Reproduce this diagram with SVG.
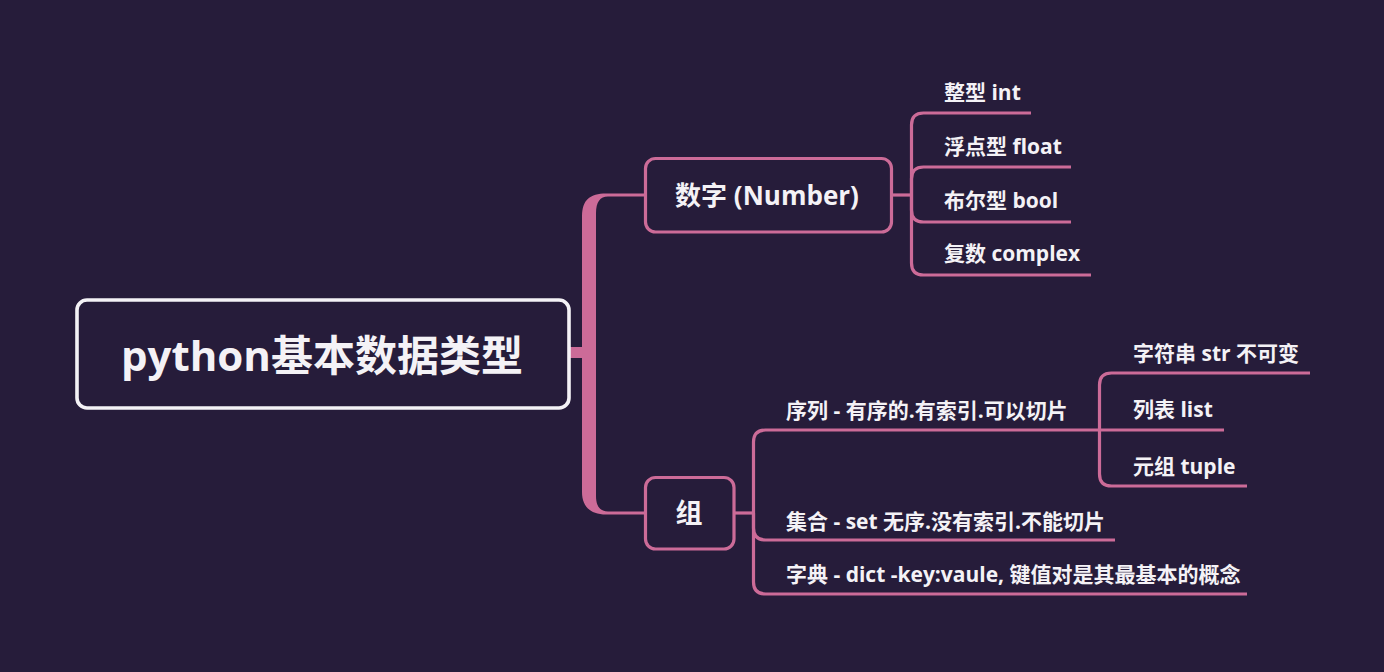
<svg xmlns="http://www.w3.org/2000/svg" width="1384" height="672" viewBox="0 0 1384 672">
<style>
.bg{fill:#261c3a}
.link{fill:none;stroke:#cc6b98;stroke-width:3.2;stroke-linecap:butt;stroke-linejoin:round}
.trunk{fill:#cc6b98}
.box{fill:#261c3a;stroke:#cc6b98;stroke-width:3.2}
.rootbox{fill:#261c3a;stroke:#f4f2f6;stroke-width:3.6}
text{font-family:'Open Sans','Noto Sans CJK SC',sans-serif;font-weight:700;fill:#f4f2f6}
.leaf{font-size:21px}
</style>
<rect class="bg" x="0" y="0" width="1384" height="672"/>
<g id="connectors">
<path class="trunk" d="M645 193.5 H606 C590 193.5 582 200 582 216 V492 C582 506 590 514.5 606 514.5 H645 V511.5 H608 C600 511.5 596 506 596 496 V213 C596 202 600 196.5 608 196.5 H645 Z"/>
<rect class="trunk" x="567" y="347" width="17" height="11"/>
<path class="link" d="M891 195 H911.5"/>
<path class="link" d="M911.5 195 V125 Q911.5 113 923.5 113 H1031"/>
<path class="link" d="M911.5 195 V179 Q911.5 167 923.5 167 H1071"/>
<path class="link" d="M911.5 195 V210 Q911.5 222 923.5 222 H1071"/>
<path class="link" d="M911.5 195 V263 Q911.5 275 923.5 275 H1091"/>
<path class="link" d="M734 513 H753.5"/>
<path class="link" d="M753.5 513 V442 Q753.5 430 765.5 430 H1099.5"/>
<path class="link" d="M753.5 513 V528 Q753.5 540 765.5 540 H1115"/>
<path class="link" d="M753.5 513 V582 Q753.5 594 765.5 594 H1247"/>
<path class="link" d="M1099.5 430 V385 Q1099.5 373 1111.5 373 H1310"/>
<path class="link" d="M1099.5 430 H1224"/>
<path class="link" d="M1099.5 430 V474 Q1099.5 486 1111.5 486 H1247"/>
</g>
<g id="root">
<rect class="rootbox" x="77" y="300" width="492" height="108" rx="10"/>
<text x="322" y="371" font-size="42" text-anchor="middle">python基本数据类型</text>
</g>
<g id="number">
<rect class="box" x="645.5" y="158.5" width="246" height="73.5" rx="10"/>
<text x="767" y="205" font-size="26" text-anchor="middle">数字 (Number)</text>
</g>
<g id="group">
<rect class="box" x="645.5" y="477.5" width="88.5" height="71.5" rx="10"/>
<text x="689" y="523" font-size="27" text-anchor="middle">组</text>
</g>
<g id="int"><text class="leaf" x="944" y="100">整型 int</text></g>
<g id="float"><text class="leaf" x="944" y="154">浮点型 float</text></g>
<g id="bool"><text class="leaf" x="944" y="208">布尔型 bool</text></g>
<g id="complex"><text class="leaf" x="944" y="261">复数 complex</text></g>
<g id="sequence"><text class="leaf" x="786" y="418">序列 - 有序的.有索引.可以切片</text></g>
<g id="set"><text class="leaf" x="786" y="529">集合 - set 无序.没有索引.不能切片</text></g>
<g id="dict"><text class="leaf" x="786" y="582">字典 - dict -key:vaule, 键值对是其最基本的概念</text></g>
<g id="str"><text class="leaf" x="1133" y="361">字符串 str 不可变</text></g>
<g id="list"><text class="leaf" x="1133" y="417">列表 list</text></g>
<g id="tuple"><text class="leaf" x="1133" y="474">元组 tuple</text></g>
</svg>
